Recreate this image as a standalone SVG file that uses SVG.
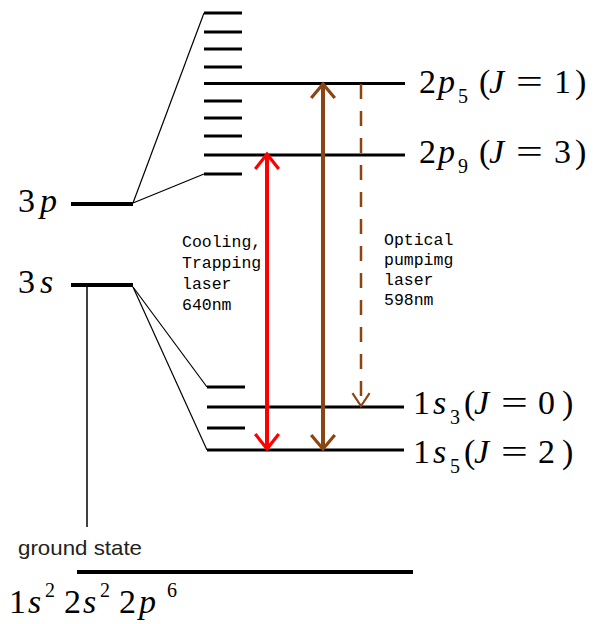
<svg xmlns="http://www.w3.org/2000/svg" width="606" height="624" viewBox="0 0 606 624">
<style>
.lvl{stroke:#000;stroke-width:3;fill:none}
.lvlb{stroke:#000;stroke-width:4;fill:none}
.thin{stroke:#000;stroke-width:1.2;fill:none}
.vert{stroke:#000;stroke-width:1.5;fill:none}
.math{font-family:'Liberation Serif','DejaVu Serif',serif;font-size:34px;fill:#000}
.it{font-style:italic}
.sub{font-size:20px}
.mono{font-family:'Liberation Mono','DejaVu Sans Mono',monospace;font-size:16.5px;fill:#000}
.sans{font-family:'Liberation Sans','DejaVu Sans',sans-serif;font-size:21px;fill:#222}
.red{stroke:#ff0000;stroke-width:4;fill:none}
.brown{stroke:#8b4513;stroke-width:4;fill:none}
.dash{stroke:#8b4513;stroke-width:2.5;stroke-dasharray:15 12;fill:none}
</style>
<defs>
<marker id="hRed" markerUnits="userSpaceOnUse" markerWidth="30" markerHeight="30" refX="0" refY="0" viewBox="-16 -14 18 28" orient="auto-start-reverse" overflow="visible">
<path d="M-14,-11 L0,0 L-14,11" stroke="#ff0000" stroke-width="3" fill="none"/>
</marker>
<marker id="hBrown" markerUnits="userSpaceOnUse" markerWidth="30" markerHeight="30" refX="0" refY="0" viewBox="-16 -14 18 28" orient="auto-start-reverse" overflow="visible">
<path d="M-13,-11 L0,0 L-13,11" stroke="#8b4513" stroke-width="3" fill="none"/>
</marker>
<marker id="hDash" markerUnits="userSpaceOnUse" markerWidth="30" markerHeight="30" refX="0" refY="0" viewBox="-16 -14 18 28" orient="auto" overflow="visible">
<path d="M-12,-8 L0,0 L-12,8" stroke="#8b4513" stroke-width="2" fill="none"/>
</marker>
</defs>
<rect width="606" height="624" fill="#fff"/>

<g id="level-3p">
<line class="lvlb" x1="71" y1="204" x2="133" y2="204"/>
<text class="math" x="18" y="212">3<tspan class="it" x="40">p</tspan></text>
</g>
<g id="level-3s">
<line class="lvlb" x1="71" y1="285" x2="133" y2="285"/>
<text class="math" x="18" y="293">3<tspan class="it" x="40">s</tspan></text>
</g>
<g id="sublevels-3p">
<line class="lvl" x1="204" y1="13" x2="242" y2="13"/>
<line class="lvl" x1="204" y1="32" x2="242" y2="32"/>
<line class="lvl" x1="204" y1="49" x2="242" y2="49"/>
<line class="lvl" x1="204" y1="67" x2="242" y2="67"/>
<line class="lvl" x1="204" y1="101" x2="242" y2="101"/>
<line class="lvl" x1="204" y1="118" x2="242" y2="118"/>
<line class="lvl" x1="204" y1="136" x2="242" y2="136"/>
<line class="lvl" x1="204" y1="174" x2="242" y2="174"/>
</g>
<g id="level-2p5">
<line class="lvl" x1="204" y1="83.5" x2="405" y2="83.5"/>
<text class="math" x="419" y="93">2<tspan class="it" x="438">p</tspan><tspan class="sub" x="458" y="103">5</tspan><tspan x="479" y="93">(</tspan><tspan class="it" x="489">J</tspan><tspan x="554">1</tspan><tspan x="575">)</tspan></text>
<text class="math" transform="translate(516,93) scale(1.4,1)">=</text>
</g>
<g id="level-2p9">
<line class="lvl" x1="204" y1="155" x2="405" y2="155"/>
<text class="math" x="419" y="163">2<tspan class="it" x="438">p</tspan><tspan class="sub" x="458" y="173">9</tspan><tspan x="479" y="163">(</tspan><tspan class="it" x="489">J</tspan><tspan x="554">3</tspan><tspan x="575">)</tspan></text>
<text class="math" transform="translate(516,163) scale(1.4,1)">=</text>
</g>
<g id="sublevels-3s">
<line class="lvl" x1="207" y1="387" x2="245" y2="387"/>
<line class="lvl" x1="207" y1="428" x2="245" y2="428"/>
</g>
<g id="level-1s3">
<line class="lvl" x1="207" y1="407" x2="404" y2="407"/>
<text class="math" x="413" y="414">1<tspan class="it" x="433">s</tspan><tspan class="sub" x="450" y="424">3</tspan><tspan x="464" y="414">(</tspan><tspan class="it" x="474">J</tspan><tspan x="538">0</tspan><tspan x="562">)</tspan></text>
<text class="math" transform="translate(501,414) scale(1.4,1)">=</text>
</g>
<g id="level-1s5">
<line class="lvl" x1="207" y1="450" x2="404" y2="450"/>
<text class="math" x="413" y="463">1<tspan class="it" x="433">s</tspan><tspan class="sub" x="450" y="473">5</tspan><tspan x="464" y="463">(</tspan><tspan class="it" x="474">J</tspan><tspan x="538">2</tspan><tspan x="562">)</tspan></text>
<text class="math" transform="translate(501,463) scale(1.4,1)">=</text>
</g>
<g id="ground-state">
<line class="lvlb" x1="77" y1="572" x2="413" y2="572"/>
<text class="sans" x="18" y="555" textLength="124" lengthAdjust="spacingAndGlyphs">ground state</text>
<text class="math" x="9" y="613">1<tspan class="it" x="28">s</tspan><tspan class="sub" x="45" y="597">2</tspan><tspan x="64" y="613">2</tspan><tspan class="it" x="83">s</tspan><tspan class="sub" x="100" y="597">2</tspan><tspan x="119" y="613">2</tspan><tspan class="it" x="139">p</tspan><tspan class="sub" x="167" y="597">6</tspan></text>
</g>
<g id="label-cooling">
<text class="mono" x="182" y="247">Cooling,</text>
<text class="mono" x="182" y="268">Trapping</text>
<text class="mono" x="182" y="289">laser</text>
<text class="mono" x="182" y="310">640nm</text>
</g>
<g id="label-pumping">
<text class="mono" x="384" y="245">Optical</text>
<text class="mono" x="384" y="265">pumpimg</text>
<text class="mono" x="384" y="285">laser</text>
<text class="mono" x="384" y="305">598nm</text>
</g>

<g id="connectors">
<line class="thin" x1="133" y1="203" x2="204" y2="13"/>
<line class="thin" x1="133" y1="203" x2="204" y2="174"/>
<line class="thin" x1="133" y1="287" x2="207" y2="387"/>
<line class="thin" x1="133" y1="287" x2="207" y2="450"/>
<line class="vert" x1="87" y1="285" x2="87" y2="527"/>
<line class="red" x1="267" y1="449" x2="267" y2="154" marker-start="url(#hRed)" marker-end="url(#hRed)"/>
<line class="brown" x1="323" y1="449" x2="323" y2="84" marker-start="url(#hBrown)" marker-end="url(#hBrown)"/>
<line class="dash" x1="361" y1="84" x2="361" y2="406" marker-end="url(#hDash)"/>
</g>
</svg>
